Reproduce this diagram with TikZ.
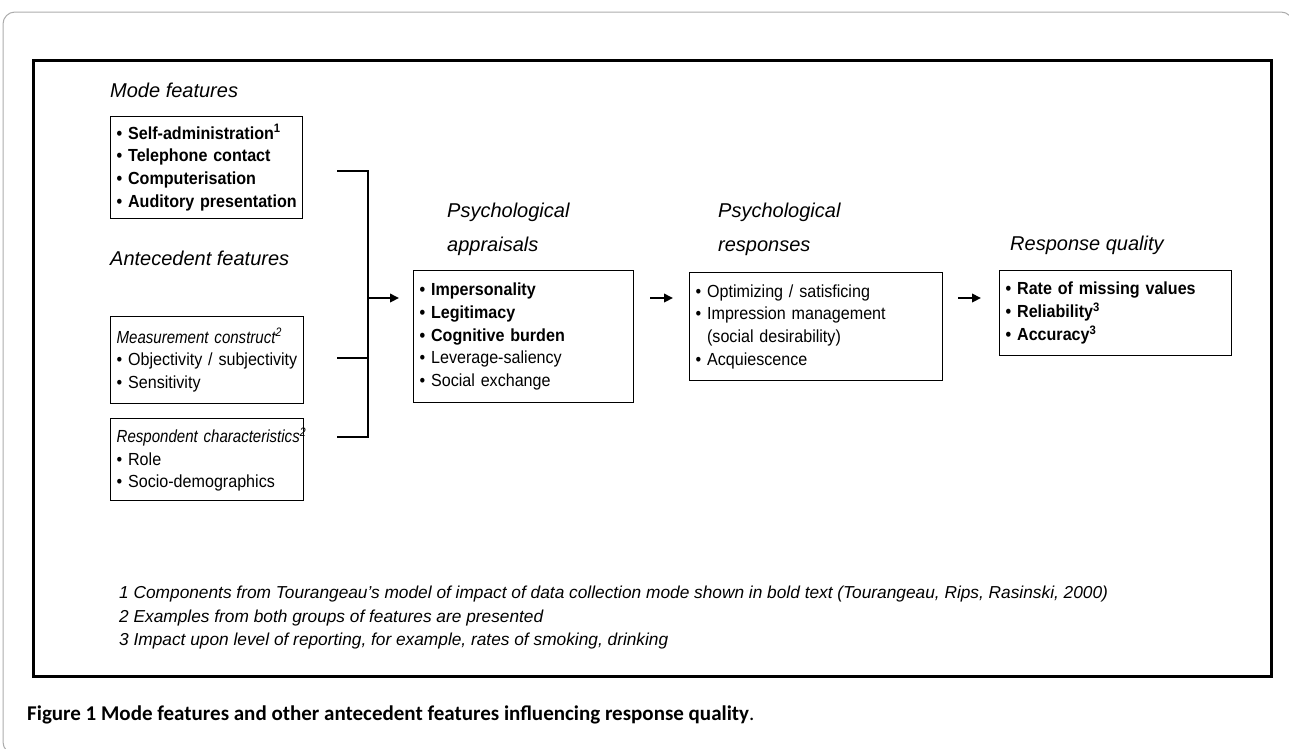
\documentclass[tikz,border=0pt]{standalone}
\usepackage{fontspec}
\setmainfont{Liberation Sans}
\newfontfamily\bxfont{Liberation Sans}[FakeStretch=0.92]
\newfontfamily\bxitfont{Liberation Sans}[FakeStretch=0.86]
\newfontfamily\capfont{Carlito}
\usetikzlibrary{arrows.meta}
\newcommand{\hd}[1]{{\bxitfont\itshape #1}}
\begin{document}
\begin{tikzpicture}[x=1pt,y=-1pt,
  box/.style={draw, line width=1.3pt, anchor=north west, inner xsep=6pt, inner ysep=0pt, align=left, font=\bxfont\fontsize{17.5}{22.7}\selectfont},
  title/.style={anchor=west, inner sep=0pt, align=left, font=\fontsize{20}{34}\selectfont\itshape},
  link/.style={line width=1.5pt},
  arr/.style={line width=2pt, -{Triangle[length=9pt,width=8.5pt]}},
  note/.style={anchor=west, inner sep=0pt, font=\fontsize{17.3}{20}\selectfont\itshape}]

\useasboundingbox (0,0) rectangle (1289,748);
\draw[gray!65, line width=1pt, rounded corners=12pt] (3,12) rectangle (1293,754);
\draw[line width=3pt] (33,60) rectangle (1271,676);

% titles
\node[title] (tmode) at (110,90) {Mode features};
\node[title] (tante) at (110,258) {Antecedent features};
\node[title] (tapp) at (447,229) {Psychological\\appraisals};
\node[title] (tresp) at (718,229) {Psychological\\responses};
\node[title] (tqual) at (1010,245) {Response quality};

% boxes
\node[box, text width=180pt, minimum height=102pt] (mode) at (110,116)
  {\bfseries\mbox{• Self-administration\textsuperscript{1}}\\ \mbox{• Telephone contact}\\ \mbox{• Computerisation}\\ \mbox{• Auditory presentation}};
\node[box, text width=181pt, minimum height=87pt] (meas) at (110,316)
  {\mbox{\hd{Measurement construct\textsuperscript{2}}}\\ \mbox{• Objectivity / subjectivity}\\ • Sensitivity};
\node[box, text width=181pt, minimum height=82pt] (resp) at (110,418)
  {\mbox{\hd{Respondent characteristics\textsuperscript{2}}}\\ • Role\\ • Socio-demographics};
\node[box, text width=208pt, minimum height=132pt] (app) at (413,270)
  {\textbf{• Impersonality}\\ \textbf{• Legitimacy}\\ \textbf{• Cognitive burden}\\ • Leverage-saliency\\ • Social exchange};
\node[box, text width=241pt, minimum height=108pt] (psr) at (689,272)
  {• Optimizing / satisficing\\ \mbox{• Impression management}\\ \phantom{• }(social desirability)\\ • Acquiescence};
\node[box, text width=220pt, minimum height=85pt] (qual) at (999,270)
  {\bfseries • Rate of missing values\\ • Reliability\textsuperscript{3}\\ • Accuracy\textsuperscript{3}};

% bracket
\coordinate (b1) at (337,171);
\coordinate (b2) at (337,358);
\coordinate (b3) at (337,437);
\coordinate (v1) at (368,171);
\coordinate (v3) at (368,437);
\coordinate (jn) at (368,298);
\draw[link] (b1) -- (v1) -- (v3) -- (b3);
\draw[link] (b2) -- (b2 -| v1);
\draw[arr, shorten >=14pt] (jn) -- (app.west |- jn);
\draw[arr, shorten <=16pt, shorten >=16pt] (app.east |- jn) -- (psr.west |- jn);
\draw[arr, shorten <=15pt, shorten >=18pt] (psr.east |- jn) -- (qual.west |- jn);

% footnotes
\node[note] (n1) at (119,594) {1 Components from Tourangeau’s model of impact of data collection mode shown in bold text (Tourangeau, Rips, Rasinski, 2000)};
\node[note] (n2) at (119,618) {2 Examples from both groups of features are presented};
\node[note] (n3) at (119,641) {3 Impact upon level of reporting, for example, rates of smoking, drinking};

% caption
\node[anchor=west, inner sep=0pt, font=\capfont\fontsize{21}{24}\selectfont] (cap) at (27,715)
  {\textbf{Figure 1 Mode features and other antecedent features influencing response quality}.};
\end{tikzpicture}
\end{document}
